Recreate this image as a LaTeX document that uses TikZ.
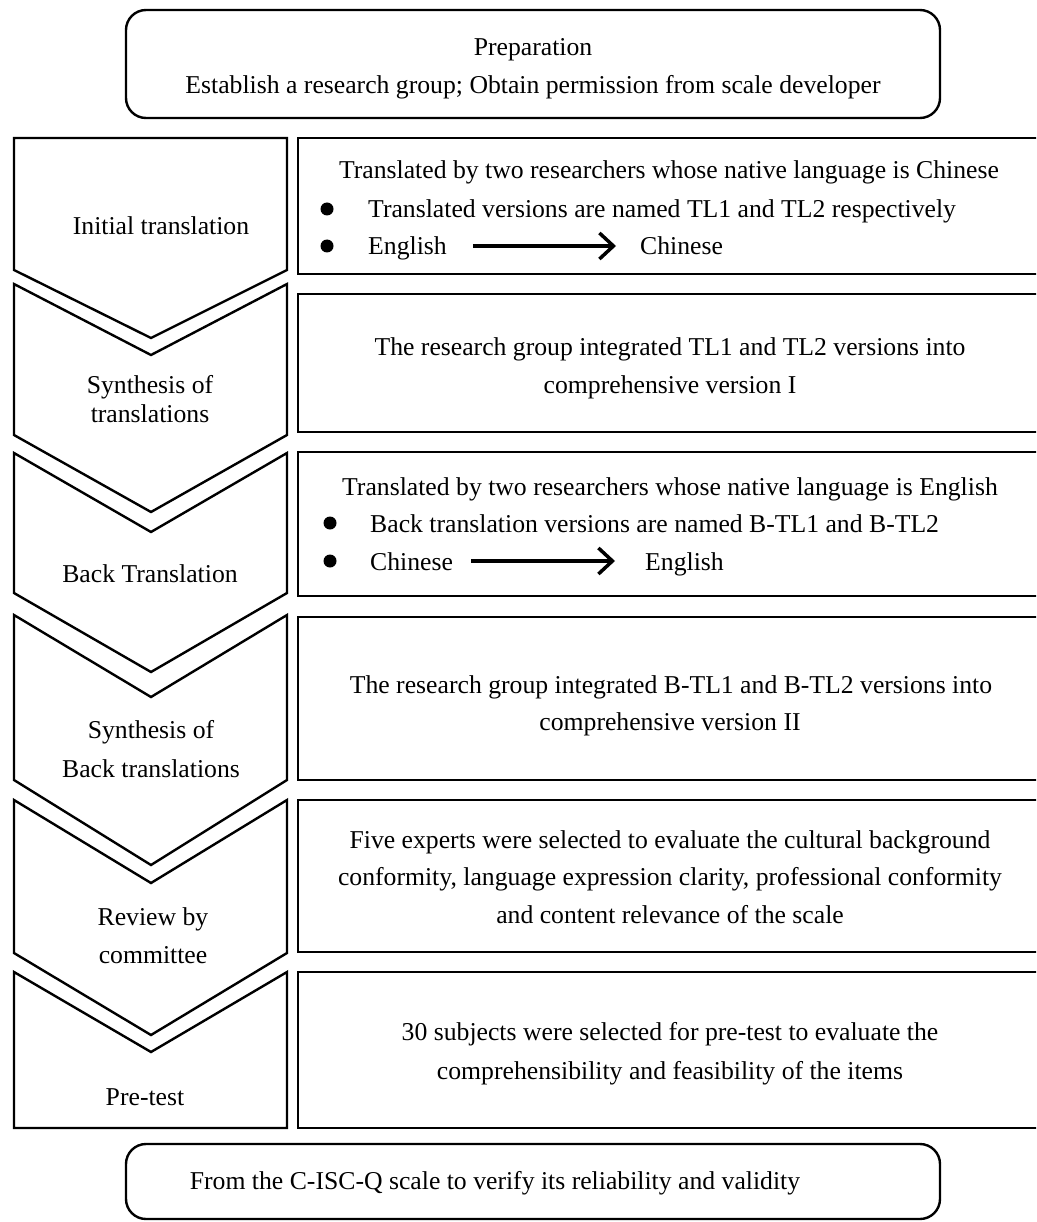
\documentclass[tikz,border=0pt]{standalone}
\usepackage{fontspec}
\setmainfont{Liberation Serif}
\usetikzlibrary{arrows.meta}
\begin{document}
\begin{tikzpicture}[x=1pt,y=-1pt,
  chev/.style={draw, line width=2.4pt, line join=miter},
  rbox/.style={draw, line width=2.4pt, rectangle, inner sep=0pt},
  rbubble/.style={draw, line width=2.4pt, rectangle, rounded corners=20pt, inner sep=0pt},
  txt/.style={font=\fontsize{25.7}{30}\selectfont, inner sep=0pt, anchor=base},
  ltxt/.style={txt, anchor=base west},
  dot/.style={circle, fill=black, inner sep=0pt, minimum size=13pt},
  langarrow/.style={line width=3.5pt, -{Straight Barb[length=14pt,width=26pt]}}
]
\clip (0,0) rectangle (1036,1222);
\useasboundingbox (0,0) rectangle (1036,1222);

% top and bottom rounded boxes
\node[rbubble, minimum width=814pt, minimum height=108pt] (top) at (533,64) {};
\node[txt] (prep1) at (533,56) {Preparation};
\node[txt] (prep2) at (533,94) {Establish a research group; Obtain permission from scale developer};

\node[rbubble, minimum width=814pt, minimum height=75pt] (bottom) at (533,1181.5) {};
\node[txt] (final) at (495,1189) {From the C-ISC-Q scale to verify its reliability and validity};

% chevrons
\draw[chev] (14,138) -- (287,138) -- (287,270) -- (151,338) -- (14,270) -- cycle;
\draw[chev] (14,284) -- (151,355) -- (287,284) -- (287,435) -- (151,512) -- (14,435) -- cycle;
\draw[chev] (14,453) -- (151,532) -- (287,453) -- (287,593) -- (151,672) -- (14,593) -- cycle;
\draw[chev] (14,615) -- (151,697) -- (287,615) -- (287,780) -- (151,865) -- (14,780) -- cycle;
\draw[chev] (14,800) -- (151,883) -- (287,800) -- (287,953) -- (151,1035) -- (14,953) -- cycle;
\draw[chev] (14,972) -- (151,1052) -- (287,972) -- (287,1128) -- (14,1128) -- cycle;

\node[txt] (c1) at (161,235) {Initial translation};
\node[txt] (c2a) at (150,393) {Synthesis of};
\node[txt] (c2b) at (150,422) {translations};
\node[txt] (c3) at (150,582) {Back Translation};
\node[txt] (c4a) at (151,738) {Synthesis of};
\node[txt] (c4b) at (151,777) {Back translations};
\node[txt] (c5a) at (153,925) {Review by};
\node[txt] (c5b) at (153,963) {committee};
\node[txt] (c6) at (145,1105) {Pre-test};

% right boxes
\node[rbox, minimum width=752pt, minimum height=136pt] (r1) at (674,206) {};
\node[rbox, minimum width=752pt, minimum height=138pt] (r2) at (674,363) {};
\node[rbox, minimum width=752pt, minimum height=144pt] (r3) at (674,524) {};
\node[rbox, minimum width=752pt, minimum height=163pt] (r4) at (674,698.5) {};
\node[rbox, minimum width=752pt, minimum height=152pt] (r5) at (674,876) {};
\node[rbox, minimum width=752pt, minimum height=156pt] (r6) at (674,1050) {};

% box 1
\node[txt] (r1a) at (669,179) {Translated by two researchers whose native language is Chinese};
\node[dot] (b1a) at (327,209) {};
\node[ltxt] (r1b) at (368,218) {Translated versions are named TL1 and TL2 respectively};
\node[dot] (b1b) at (327,246) {};
\node[ltxt] (en1) at (368,255) {English};
\node[ltxt] (zh1) at (640,255) {Chinese};
\draw[langarrow] ([xshift=26pt,yshift=9pt]en1.base east) -- ([xshift=-24pt,yshift=9pt]zh1.base west);

% box 2
\node[txt] (r2a) at (670,355) {The research group integrated TL1 and TL2 versions into};
\node[txt] (r2b) at (670,393) {comprehensive version I};

% box 3
\node[txt] (r3a) at (670,495) {Translated by two researchers whose native language is English};
\node[dot] (b3a) at (330,523) {};
\node[ltxt] (r3b) at (370,532) {Back translation versions are named B-TL1 and B-TL2};
\node[dot] (b3b) at (330,561) {};
\node[ltxt] (zh3) at (370,570) {Chinese};
\node[ltxt] (en3) at (645,570) {English};
\draw[langarrow] ([xshift=18pt,yshift=9pt]zh3.base east) -- ([xshift=-30pt,yshift=9pt]en3.base west);

% box 4
\node[txt] (r4a) at (671,693) {The research group integrated B-TL1 and B-TL2 versions into};
\node[txt] (r4b) at (670,730) {comprehensive version II};

% box 5
\node[txt] (r5a) at (670,848) {Five experts were selected to evaluate the cultural background};
\node[txt] (r5b) at (670,885) {conformity, language expression clarity, professional conformity};
\node[txt] (r5c) at (670,923) {and content relevance of the scale};

% box 6
\node[txt] (r6a) at (670,1040) {30 subjects were selected for pre-test to evaluate the};
\node[txt] (r6b) at (670,1079) {comprehensibility and feasibility of the items};
\end{tikzpicture}
\end{document}
